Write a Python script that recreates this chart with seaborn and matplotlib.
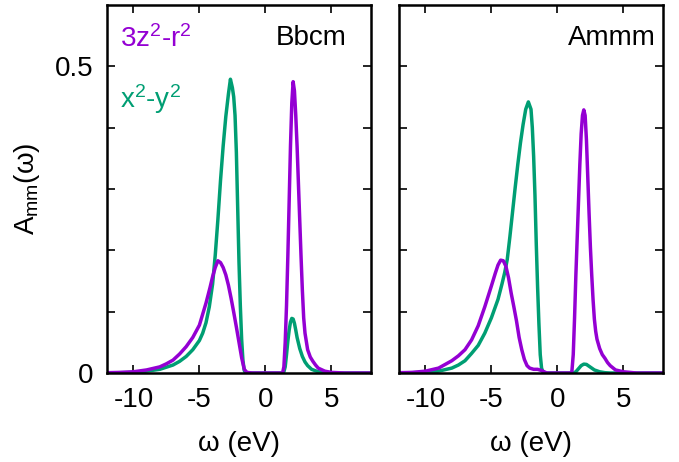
import matplotlib
matplotlib.use("Agg")
import matplotlib.pyplot as plt
import seaborn as sns

# Spectral functions (omega in eV, A_mm(omega))
# Bbcm, 3z^2-r^2 orbital
bbcm_z2_w = [-12, -11, -10, -9, -8, -7.5, -7, -6.5, -6, -5.5, -5, -4.5, -4.2, -4.0, -3.8,
             -3.6, -3.4, -3.2, -3.0, -2.8, -2.6, -2.4, -2.2, -2.0, -1.8, -1.6, -1.4, -1.0,
             0.0, 1.0, 1.3, 1.4, 1.5, 1.6, 1.7, 1.8, 1.9, 2.0, 2.1, 2.2, 2.3, 2.4, 2.5, 2.6,
             2.7, 2.8, 2.9, 3.0, 3.2, 3.4, 3.6, 3.8, 4.0, 4.5, 5.0, 6.0, 8.0]
bbcm_z2_a = [0.0005, 0.001, 0.002, 0.005, 0.010, 0.015, 0.021, 0.031, 0.043, 0.058, 0.078,
             0.114, 0.139, 0.157, 0.172, 0.183, 0.180, 0.172, 0.160, 0.143, 0.122, 0.099,
             0.075, 0.050, 0.025, 0.006, 0.001, 0.0, 0.0, 0.0, 0.0, 0.01, 0.05, 0.11, 0.19,
             0.28, 0.37, 0.44, 0.475, 0.46, 0.42, 0.37, 0.31, 0.25, 0.19, 0.135, 0.09, 0.065,
             0.038, 0.026, 0.019, 0.013, 0.008, 0.003, 0.001, 0.0, 0.0]

# Bbcm, x^2-y^2 orbital
bbcm_xy_w = [-12, -10, -9, -8, -7, -6.5, -6, -5.5, -5, -4.75, -4.5, -4.25, -4.0, -3.8, -3.6,
             -3.4, -3.2, -3.0, -2.8, -2.65, -2.5, -2.4, -2.3, -2.2, -2.1, -2.0, -1.9, -1.8,
             -1.7, -1.6, -1.5, 0.0, 1.3, 1.4, 1.5, 1.6, 1.7, 1.8, 1.9, 2.0, 2.1, 2.2, 2.3,
             2.4, 2.5, 2.6, 2.8, 3.0, 3.2, 3.5, 4.0, 5.0, 8.0]
bbcm_xy_a = [0.0, 0.001, 0.003, 0.006, 0.013, 0.019, 0.027, 0.038, 0.053, 0.065, 0.082,
             0.108, 0.145, 0.192, 0.250, 0.314, 0.370, 0.418, 0.455, 0.479, 0.465, 0.45,
             0.42, 0.36, 0.27, 0.18, 0.11, 0.055, 0.02, 0.004, 0.0, 0.0, 0.0, 0.002, 0.01,
             0.03, 0.052, 0.07, 0.083, 0.089, 0.088, 0.081, 0.070, 0.058, 0.049, 0.040,
             0.027, 0.018, 0.012, 0.006, 0.002, 0.0, 0.0]

# Ammm, 3z^2-r^2 orbital
ammm_z2_w = [-12, -11, -10, -9, -8, -7.5, -7, -6.5, -6, -5.5, -5, -4.7, -4.5, -4.3, -4.1,
             -3.9, -3.7, -3.5, -3.3, -3.1, -2.9, -2.7, -2.5, -2.3, -2.1, -1.8, -1.5, -1.2,
             -1.0, -0.8, 0.0, 1.0, 1.1, 1.2, 1.3, 1.4, 1.5, 1.6, 1.7, 1.8, 1.9, 2.0, 2.1, 2.2,
             2.3, 2.4, 2.5, 2.6, 2.7, 2.8, 2.9, 3.0, 3.2, 3.4, 3.6, 3.8, 4.0, 4.4, 5.0, 6.0, 8.0]
ammm_z2_a = [0.0005, 0.001, 0.003, 0.008, 0.020, 0.028, 0.038, 0.054, 0.077, 0.108, 0.142,
             0.163, 0.176, 0.184, 0.183, 0.174, 0.155, 0.130, 0.108, 0.085, 0.058, 0.038,
             0.022, 0.012, 0.008, 0.006, 0.006, 0.004, 0.002, 0.0, 0.0, 0.0, 0.003, 0.03,
             0.09, 0.16, 0.22, 0.28, 0.34, 0.39, 0.42, 0.429, 0.42, 0.38, 0.32, 0.26, 0.205,
             0.16, 0.12, 0.088, 0.068, 0.055, 0.040, 0.030, 0.024, 0.017, 0.012, 0.005,
             0.002, 0.0, 0.0]

# Ammm, x^2-y^2 orbital
ammm_xy_w = [-12, -10, -9, -8, -7.5, -7, -6.5, -6, -5.5, -5, -4.5, -4.2, -4.0, -3.8, -3.6,
             -3.4, -3.2, -3.0, -2.8, -2.6, -2.4, -2.2, -2.0, -1.9, -1.8, -1.7, -1.6, -1.5,
             -1.4, -1.3, -1.2, -1.1, -1.0, 0.0, 1.2, 1.4, 1.6, 1.8, 2.0, 2.2, 2.4, 2.6, 2.8,
             3.2, 3.6, 4.0, 8.0]
ammm_xy_a = [0.0, 0.001, 0.003, 0.008, 0.013, 0.020, 0.032, 0.045, 0.065, 0.090, 0.120,
             0.145, 0.163, 0.185, 0.222, 0.262, 0.302, 0.34, 0.375, 0.405, 0.430, 0.442,
             0.43, 0.40, 0.353, 0.29, 0.21, 0.14, 0.08, 0.03, 0.008, 0.002, 0.0, 0.0, 0.0,
             0.002, 0.007, 0.012, 0.0145, 0.014, 0.011, 0.008, 0.005, 0.002, 0.0005, 0.0, 0.0]

panel_names = ["Bbcm", "Ammm"]
x_ticks = [-10, -5, 0, 5]
y_ticks = [0, 0.1, 0.2, 0.3, 0.4, 0.5]
y_tick_labels = ["0", "", "", "", "", "0.5"]

purple = "#9400D3"
green = "#009E73"

sns.set_style("ticks")
plt.rcParams["font.family"] = ["Liberation Sans", "DejaVu Sans"]
plt.rcParams["mathtext.fontset"] = "custom"
plt.rcParams["mathtext.rm"] = "Liberation Sans"
plt.rcParams["mathtext.it"] = "Liberation Sans:italic"
plt.rcParams["text.color"] = "black"
plt.rcParams["axes.labelcolor"] = "black"
plt.rcParams["xtick.color"] = "black"
plt.rcParams["ytick.color"] = "black"

fig = plt.figure(figsize=(6.79, 4.62), dpi=100)
ax1 = fig.add_axes([107 / 679, 89 / 462, 264 / 679, 368 / 462])
ax2 = fig.add_axes([399 / 679, 89 / 462, 264 / 679, 368 / 462])

data = [(bbcm_z2_w, bbcm_z2_a, bbcm_xy_w, bbcm_xy_a),
        (ammm_z2_w, ammm_z2_a, ammm_xy_w, ammm_xy_a)]

fs = 20
for ax, name, (zw, za, xw, xa) in zip([ax1, ax2], panel_names, data):
    sns.lineplot(x=xw, y=xa, color=green, linewidth=2.5, ax=ax, sort=False, estimator=None)
    sns.lineplot(x=zw, y=za, color=purple, linewidth=2.5, ax=ax, sort=False, estimator=None)
    ax.set_xlim(-12, 8)
    ax.set_ylim(0, 0.6)
    ax.set_xticks(x_ticks)
    ax.set_xticklabels([str(t) for t in x_ticks])
    ax.set_yticks(y_ticks)
    ax.tick_params(direction="in", top=True, right=True, length=5.5, width=1.2,
                   labelsize=fs, pad=10)
    for s in ax.spines.values():
        s.set_linewidth(1.8)
        s.set_color("black")
    ax.set_xlabel("ω (eV)", fontsize=fs, labelpad=13)
    ax.text(0.973 if name == "Ammm" else 0.909, 0.89, name, transform=ax.transAxes,
            ha="right", va="baseline", fontsize=fs)

ax1.set_yticklabels(y_tick_labels)
ax2.set_yticklabels([])
ax1.set_ylabel("A$_{\\rm mm}$(ω)", fontsize=fs, labelpad=9)
ax1.text(0.05, 0.887, "3z$^{2}$-r$^{2}$", color=purple, transform=ax1.transAxes,
         ha="left", va="baseline", fontsize=fs)
ax1.text(0.05, 0.719, "x$^{2}$-y$^{2}$", color=green, transform=ax1.transAxes,
         ha="left", va="baseline", fontsize=fs)

fig.savefig("out.png", dpi=100)
